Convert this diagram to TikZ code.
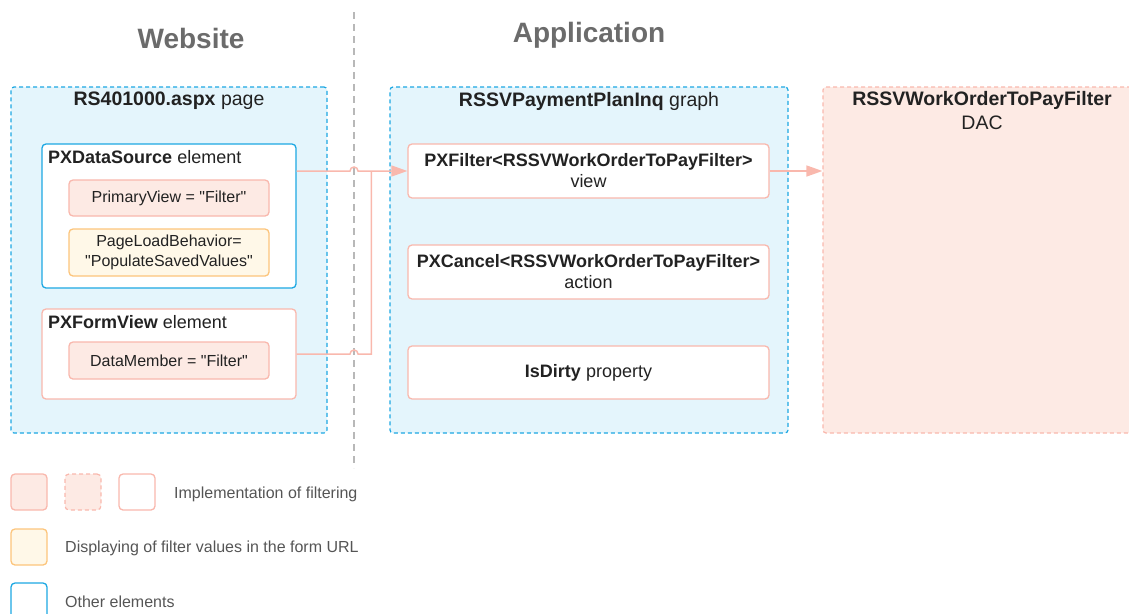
\documentclass[tikz,border=0pt]{standalone}
\usepackage{fontspec}
\setmainfont{Liberation Sans}
\usetikzlibrary{arrows.meta,calc}

\definecolor{areablue}{HTML}{E4F5FC}
\definecolor{lineblue}{HTML}{1DA8E3}
\definecolor{implfill}{HTML}{FDEAE4}
\definecolor{impldraw}{HTML}{F9B8AD}
\definecolor{showfill}{HTML}{FFF8E8}
\definecolor{showdraw}{HTML}{FCC57C}
\definecolor{headgrey}{HTML}{6B6B6B}
\definecolor{sepgrey}{HTML}{B8B8B8}
\definecolor{txt}{HTML}{222222}
\definecolor{legtxt}{HTML}{555555}

\newcommand{\headfont}{\fontsize{28}{32}\selectfont\bfseries}
\newcommand{\titlefont}{\fontsize{19.5}{24}\selectfont}
\newcommand{\elemfont}{\fontsize{18}{21}\selectfont}
\newcommand{\bodyfont}{\fontsize{16}{20}\selectfont}
\newcommand{\q}{\textquotedbl}

\begin{document}
\begin{tikzpicture}[x=1pt,y=-1pt,
    area/.style={draw=lineblue,fill=areablue,dash pattern=on 4pt off 3pt,
                 line width=1.2pt,rounded corners=3pt,inner sep=0pt},
    dac/.style={draw=impldraw,fill=implfill,dash pattern=on 4pt off 3pt,
                line width=1.2pt,rounded corners=3pt,inner sep=0pt},
    elem/.style={draw=#1,fill=white,line width=1.3pt,rounded corners=4pt,
                 inner sep=0pt,text=txt,font=\elemfont,align=center},
    impl/.style={draw=impldraw,fill=implfill,line width=1.3pt,rounded corners=4pt,
                 inner sep=0pt,text=txt,font=\bodyfont,align=center},
    show/.style={draw=showdraw,fill=showfill,line width=1.3pt,rounded corners=4pt,
                 inner sep=0pt,text=txt,font=\bodyfont,align=center},
    legbox/.style={minimum width=36pt,minimum height=36pt},
    legtext/.style={anchor=west,text=legtxt,font=\bodyfont,inner sep=0pt},
    wire/.style={draw=impldraw,line width=1.5pt},
    tip/.style={-{Triangle[length=16pt,width=11pt]}}]
  \useasboundingbox (0,0) rectangle (1129,613);

  % column headings and separator
  \node[text=headgrey,font=\headfont] (hweb) at (191,38) {Website};
  \node[text=headgrey,font=\headfont] (happ) at (589,35) {Application};
  \coordinate (septop) at (354,12);
  \coordinate (sepbot) at (354,468);
  \draw[sepgrey,line width=2pt,dash pattern=on 7pt off 5pt] (septop) -- (sepbot);

  % website
  \node[area,minimum width=316pt,minimum height=346pt] (web) at (169,260) {};
  \node[text=txt,font=\titlefont] (webt) at (169,101) {\textbf{RS401000.aspx} page};
  \node[elem=lineblue,minimum width=254pt,minimum height=144pt] (DS) at (169,216) {};
  \node[text=txt,font=\elemfont,anchor=west,inner sep=0pt] (DSt) at (48,157) {\textbf{PXDataSource} element};
  \node[impl,minimum width=200pt,minimum height=36pt] (PV) at (169,198) {PrimaryView = \q Filter\q};
  \node[show,minimum width=200pt,minimum height=47pt] (PL) at (169,252.5) {PageLoadBehavior=\\\q PopulateSavedValues\q};
  \node[elem=impldraw,minimum width=254pt,minimum height=90pt] (FV) at (169,354) {};
  \node[text=txt,font=\elemfont,anchor=west,inner sep=0pt] (FVt) at (48,322) {\textbf{PXFormView} element};
  \node[impl,minimum width=200pt,minimum height=37pt] (DM) at (169,360.5) {DataMember = \q Filter\q};

  % application
  \node[area,minimum width=398pt,minimum height=346pt] (app) at (589,260) {};
  \node[text=txt,font=\titlefont] (appt) at (589,101) {\textbf{RSSVPaymentPlanInq} graph};
  \node[elem=impldraw,minimum width=361pt,minimum height=54pt] (F) at (588.5,171) {\textbf{PXFilter<RSSVWorkOrderToPayFilter>}\\view};
  \node[elem=impldraw,minimum width=361pt,minimum height=54pt] (C) at (588.5,272) {\textbf{PXCancel<RSSVWorkOrderToPayFilter>}\\action};
  \node[elem=impldraw,minimum width=361pt,minimum height=53pt] (D) at (588.5,372.5) {\textbf{IsDirty} property};

  % DAC
  \node[dac,minimum width=318pt,minimum height=346pt] (dac) at (982,260) {};
  \node[text=txt,font=\titlefont,align=center,anchor=north] (dact) at (982,88) {\textbf{RSSVWorkOrderToPayFilter}\\DAC};

  % connectors
  \path (F.west) ++(-36,0) coordinate (junc);
  \draw[wire,tip] (DS.east |- F.west) -- ($(septop |- F.west)+(-4,0)$)
      arc[start angle=180,end angle=360,radius=4] -- (junc) -- (F.west);
  \draw[wire] (FV.east) -- ($(septop |- FV.east)+(-4,0)$)
      arc[start angle=180,end angle=360,radius=4] -- (junc |- FV.east) -- (junc);
  \draw[wire,tip] (F.east) -- (dac.west |- F.east);

  % legend
  \node[impl,legbox] (l1) at (29,492) {};
  \node[dac,legbox,rounded corners=4pt] (l2) at (83,492) {};
  \node[elem=impldraw,legbox] (l3) at (137,492) {};
  \node[legtext] (l3t) at (174,494) {Implementation of filtering};
  \node[show,legbox] (l4) at (29,547) {};
  \node[legtext] (l4t) at (65,548) {Displaying of filter values in the form URL};
  \node[elem=lineblue,legbox] (l5) at (29,601) {};
  \node[legtext] (l5t) at (65,602) {Other elements};
\end{tikzpicture}
\end{document}
